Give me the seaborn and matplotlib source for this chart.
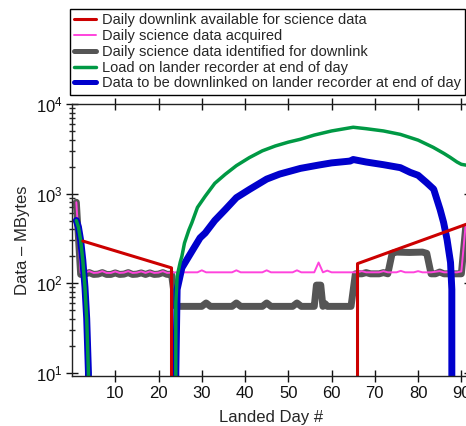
import numpy as np
import pandas as pd
import seaborn as sns
import matplotlib
matplotlib.use("Agg")
import matplotlib.pyplot as plt
from matplotlib.ticker import LogLocator, FixedLocator, NullFormatter

# daily downlink available for science data (0 = no downlink)
red_day = [2.5, 23, 24, 65, 66, 92]
red_val = [295, 148, 0, 0, 165, 470]

# daily science data acquired
pink_day = [1, 2, 3, 4, 5, 6, 7, 8, 9, 10, 11, 12, 13, 14, 15, 16, 17, 18, 19, 20,
            21, 22, 23, 24, 26, 28, 29, 30, 31, 33, 35, 37, 38, 39, 41, 43, 44, 45, 46,
            48, 50, 51, 52, 53, 55, 56, 57, 58, 59, 60, 62, 64, 66, 67, 68, 70, 71, 72,
            73, 75, 76, 77, 79, 80, 81, 83, 85, 86, 88, 89, 90, 91, 92]
pink_val = [800, 130, 131, 136, 130, 131, 136, 130, 130, 135, 130, 131, 136, 130, 131,
            135, 130, 135, 130, 131, 136, 130, 131, 132, 132, 132, 132, 139, 132, 132,
            132, 132, 139, 132, 132, 132, 132, 139, 132, 132, 132, 132, 139, 132, 132,
            132, 170, 132, 138, 132, 132, 132, 132, 136, 132, 132, 132, 136, 132, 132,
            137, 132, 132, 136, 132, 132, 136, 132, 132, 132, 135, 450, 480]

# daily science data identified for downlink
gray_day = [1, 2, 3, 4, 5, 6, 7, 8, 9, 10, 11, 12, 13, 14, 15, 16, 17, 18, 19, 20,
            21, 22, 23, 24, 26, 28, 30, 31, 32, 34, 37, 38, 39, 41, 44, 45, 46, 48, 51,
            52, 53, 55, 56, 56.5, 57.5, 58, 58.5, 59, 61, 64.5, 65.5, 67, 68, 69, 71,
            72, 73, 74, 75, 78, 81, 82, 83, 84, 85, 86, 88, 90, 91, 92]
gray_val = [800, 125, 126, 131, 125, 126, 131, 125, 125, 130, 125, 126, 131, 125, 126,
            130, 125, 130, 125, 126, 131, 125, 126, 55, 55, 55, 55, 60, 55, 55, 55, 60,
            55, 55, 55, 60, 55, 55, 55, 60, 55, 55, 55, 95, 95, 55, 59, 55, 55, 55, 127,
            127, 131, 127, 127, 131, 127, 215, 222, 220, 222, 215, 127, 127, 133, 127,
            127, 127, 420, 450]

# load on lander recorder at end of day
green_day = [1, 1.5, 2, 2.5, 3, 3.4, 3.8, 4, 23.5, 24, 24.3, 25, 25.4, 26, 27, 27.7, 29,
             30.8, 33, 35.4, 38, 41, 44, 47, 50, 52.8, 56, 60, 65, 68, 72, 75.9, 80,
             83.5, 86, 87.4, 89, 90, 91, 92]
green_val = [500, 420, 300, 180, 90, 40, 10, 0, 0, 60, 119, 170, 199, 280, 390, 471,
             700, 935, 1300, 1637, 2050, 2520, 3000, 3400, 3750, 4040, 4500, 5000, 5500,
             5300, 5000, 4580, 3950, 3280, 2800, 2540, 2250, 2120, 2080, 2060]

# data to be downlinked on lander recorder at end of day
blue_day = [1, 1.5, 2, 2.5, 3, 3.4, 3.8, 4, 24, 24.3, 25.4, 27.7, 29.6, 30.8, 33, 35.4,
            38, 41, 45, 48, 52.8, 57, 60, 64.3, 65, 68, 72, 75.9, 78.2, 80, 82, 83.6,
            85.1, 85.9, 86.7, 87.5, 87.8, 88.1, 92]
blue_val = [500, 420, 300, 180, 90, 40, 10, 0, 10, 85, 148, 226, 320, 363, 500, 660,
            900, 1110, 1450, 1650, 1910, 2080, 2200, 2306, 2400, 2250, 2100, 1946, 1722,
            1600, 1320, 1120, 660, 475, 306, 170, 85, 0, 0]

sns.set_style("ticks")
plt.rcParams["font.family"] = ["Liberation Sans", "DejaVu Sans"]
plt.rcParams["mathtext.fontset"] = "custom"
plt.rcParams["mathtext.rm"] = "Liberation Sans"
plt.rcParams["axes.linewidth"] = 1.0

fig = plt.figure(figsize=(4.66, 4.26), dpi=100)
ax = fig.add_axes([72 / 466, 50 / 426, 398 / 466, 272 / 426])

series = [
    ("gray", gray_day, gray_val, "#555555", 5.0, "Daily science data identified for downlink"),
    ("pink", pink_day, pink_val, "#ff44dd", 1.4, "Daily science data acquired"),
    ("blue", blue_day, blue_val, "#0000cc", 5.0, "Data to be downlinked on lander recorder at end of day"),
    ("green", green_day, green_val, "#009944", 2.5, "Load on lander recorder at end of day"),
    ("red", red_day, red_val, "#cc0000", 2.2, "Daily downlink available for science data"),
]
handles = {}
for key, d, v, col, lw, lab in series:
    df = pd.DataFrame({"day": d, "val": v})
    sns.lineplot(data=df, x="day", y="val", ax=ax, color=col, linewidth=lw,
                 estimator=None, sort=False, label=lab)
    handles[key] = ax.lines[-1]

ax.set_yscale("log")
ax.set_xlim(0, 92)
ax.set_ylim(9.18, 1e4)

ax.xaxis.set_major_locator(FixedLocator([10, 20, 30, 40, 50, 60, 70, 80, 90]))
ax.yaxis.set_major_locator(LogLocator(base=10, numticks=10))
ax.yaxis.set_minor_locator(LogLocator(base=10, subs=np.arange(2, 10), numticks=10))
ax.yaxis.set_minor_formatter(NullFormatter())
ax.tick_params(which="major", direction="inout", length=8, width=1.0, top=True,
               right=True, labelsize=12, pad=3, colors="#111111")
ax.tick_params(which="minor", direction="inout", length=5, width=1.0, top=True,
               right=True)
for s in ax.spines.values():
    s.set_visible(True)
    s.set_color("#222222")

ax.set_xlabel("Landed Day #", fontsize=12, labelpad=7)
ax.set_ylabel("Data \u2013 MBytes", fontsize=12, labelpad=4)

order = ["red", "pink", "gray", "green", "blue"]
leg = fig.legend([handles[k] for k in order], [handles[k].get_label() for k in order],
                 loc="upper left", bbox_to_anchor=(70 / 466, 1 - 9 / 426),
                 borderaxespad=0, fontsize=10.5, frameon=True, fancybox=False,
                 handlelength=1.45, handletextpad=0.45, labelspacing=0.12,
                 borderpad=0.3, edgecolor="black", framealpha=1)
leg.get_frame().set_linewidth(1.0)
for h in leg.legend_handles:
    if h.get_linewidth() > 4:
        h.set_linewidth(3.6)
ax.get_legend().remove()

fig.savefig("out.png", dpi=100)
